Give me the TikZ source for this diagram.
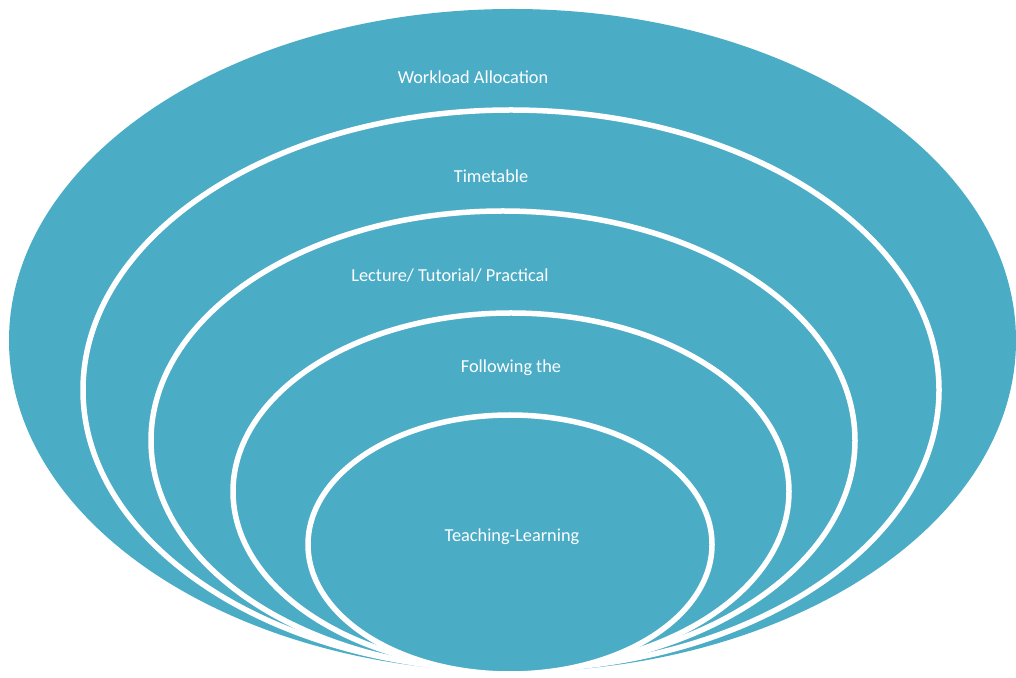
\documentclass[tikz,border=0pt]{standalone}
\usepackage{fontspec}
\setmainfont{Carlito}
\definecolor{ring}{HTML}{4BACC6}
\begin{document}
\begin{tikzpicture}[x=1pt,y=1pt,
  band/.style={fill=ring,draw=white,line width=5.5pt},
  lbl/.style={text=white,font=\fontsize{18.3}{21}\selectfont,inner sep=0pt}]
\useasboundingbox (0,0) rectangle (1016,677);
% outer
\fill[ring] (512.5,336.5) ellipse [x radius=503.5,y radius=331.5];
% nested ellipses (y flipped: 677 - y_img)
\filldraw[band] (511,287) ellipse [x radius=428,y radius=280];
\filldraw[band] (503,236.5) ellipse [x radius=352,y radius=229.5];
\filldraw[band] (511,185.5) ellipse [x radius=278,y radius=178.5];
\filldraw[band] (510,132.5) ellipse [x radius=202,y radius=129.5];
% labels
\node[lbl] (wa) at (473,600) {Workload Allocation};
\node[lbl] (tt) at (491,501) {Timetable};
\node[lbl] (lt) at (450,401) {Lecture/ Tutorial/ Practical};
\node[lbl] (ft) at (511,309) {Following the};
\node[lbl] (tl) at (512,140) {Teaching-Learning};
\end{tikzpicture}
\end{document}
